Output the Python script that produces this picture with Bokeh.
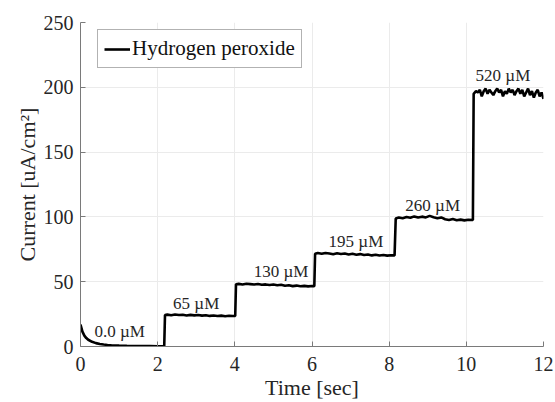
from bokeh.plotting import figure
from bokeh.models import Range1d, FixedTicker, ColumnDataSource, Legend, LegendItem
from bokeh.core.properties import value
from bokeh.embed import file_html
from bokeh.resources import INLINE

# ---- data ----
seg0_t = [0.00, 0.05, 0.10, 0.15, 0.20, 0.30, 0.40, 0.50, 0.60, 0.70, 0.80, 1.00,
          1.20, 1.40, 1.60, 1.80, 2.00, 2.17]
seg0_i = [17.0, 11.5, 8.4, 6.5, 5.2, 3.6, 2.6, 1.9, 1.5, 1.2, 1.0, 0.7,
          0.5, 0.4, 0.3, 0.3, 0.2, 0.2]

seg1_t = [2.19, 2.25, 2.35, 2.45, 2.55, 2.65, 2.75, 2.85, 2.95, 3.05, 3.15, 3.25,
          3.35, 3.45, 3.55, 3.65, 3.75, 3.85, 3.95, 4.01]
seg1_i = [24.3, 24.6, 24.1, 24.7, 24.3, 24.5, 23.9, 24.4, 24.0, 24.3, 23.8, 24.1,
          23.6, 23.9, 23.5, 23.8, 23.4, 23.7, 23.5, 23.6]

seg2_t = [4.03, 4.10, 4.20, 4.30, 4.40, 4.50, 4.60, 4.70, 4.80, 4.90, 5.00, 5.10,
          5.20, 5.30, 5.40, 5.50, 5.60, 5.70, 5.80, 5.90, 6.00, 6.06]
seg2_i = [48.0, 48.3, 47.9, 48.4, 48.1, 47.8, 48.2, 47.7, 47.9, 47.5, 47.8, 47.3,
          47.6, 46.9, 47.2, 46.6, 47.0, 46.5, 46.8, 46.4, 46.7, 46.6]

seg3_t = [6.08, 6.15, 6.25, 6.35, 6.45, 6.55, 6.65, 6.75, 6.85, 6.95, 7.05, 7.15,
          7.25, 7.35, 7.45, 7.55, 7.65, 7.75, 7.85, 7.95, 8.05, 8.14]
seg3_i = [71.6, 72.1, 71.5, 72.2, 71.8, 71.2, 71.9, 71.4, 71.7, 71.0, 71.5, 70.8,
          71.3, 70.6, 71.0, 70.3, 70.8, 70.2, 70.6, 70.1, 70.4, 70.3]

seg4_t = [8.17, 8.25, 8.35, 8.45, 8.55, 8.65, 8.75, 8.85, 8.95, 9.05, 9.15, 9.25,
          9.35, 9.45, 9.55, 9.65, 9.75, 9.85, 9.95, 10.05, 10.17]
seg4_i = [98.8, 99.6, 99.0, 99.9, 99.3, 100.4, 99.5, 100.2, 99.6, 100.8, 99.7, 98.9,
          99.6, 98.2, 97.6, 98.3, 97.4, 97.9, 97.3, 97.8, 97.6]

seg5_t = [10.19, 10.25, 10.30, 10.35, 10.40, 10.45, 10.50, 10.55, 10.60, 10.65,
          10.70, 10.75, 10.80, 10.85, 10.90, 10.95, 11.00, 11.05, 11.10, 11.15,
          11.20, 11.25, 11.30, 11.35, 11.40, 11.45, 11.50, 11.55, 11.60, 11.65,
          11.70, 11.75, 11.80, 11.85, 11.90, 11.95, 12.00]
seg5_i = [195, 197, 196, 198, 193, 197, 199, 195, 198, 196,
          194, 197, 199, 196, 198, 193, 197, 195, 199, 196,
          198, 194, 197, 199, 195, 198, 193, 196, 199, 194,
          197, 192, 196, 198, 193, 196, 191]

label_text = ["0.0 \u00b5M", "65 \u00b5M", "130 \u00b5M", "195 \u00b5M", "260 \u00b5M", "520 \u00b5M"]
label_x = [0.36, 2.40, 4.49, 6.43, 8.42, 10.24]
label_y = [11.7, 32.8, 57.8, 81.2, 108.8, 209.4]

x_ticks = [0, 2, 4, 6, 8, 10, 12]
y_ticks = [0, 50, 100, 150, 200, 250]

series_name = "Hydrogen peroxide"

time = seg0_t + seg1_t + seg2_t + seg3_t + seg4_t + seg5_t
current = seg0_i + seg1_i + seg2_i + seg3_i + seg4_i + seg5_i

SERIF = "Liberation Serif"

p = figure(width=555, height=402, output_backend="svg", toolbar_location=None,
           x_range=Range1d(0, 12), y_range=Range1d(0, 250),
           min_border_left=80, min_border_right=12, min_border_top=22, min_border_bottom=55)
p.outline_line_color = None
p.background_fill_color = "white"
p.border_fill_color = "white"

r = p.line(time, current, line_color="black", line_width=2.6)

src = ColumnDataSource(dict(x=label_x, y=label_y, t=label_text))
p.text(x="x", y="y", text="t", source=src, text_font=value(SERIF),
       text_font_size="17px", text_baseline="middle", text_align="left",
       text_color="#262626")

p.xaxis.ticker = FixedTicker(ticks=x_ticks)
p.yaxis.ticker = FixedTicker(ticks=y_ticks)
p.xaxis.axis_label = "Time [sec]"
p.yaxis.axis_label = "Current [uA/cm\u00b2]"
for ax in (p.xaxis[0], p.yaxis[0]):
    ax.axis_line_color = "#7a7a7a"
    ax.major_tick_line_color = "#7a7a7a"
    ax.major_tick_in = 5
    ax.major_tick_out = 0
    ax.minor_tick_line_color = None
    ax.major_label_text_font = SERIF
    ax.major_label_text_font_size = "20px"
    ax.major_label_text_color = "#262626"
    ax.axis_label_text_font = SERIF
    ax.axis_label_text_font_size = "22px"
    ax.axis_label_text_font_style = "normal"
    ax.axis_label_text_color = "#262626"
    ax.axis_label_standoff = 1
p.xaxis.major_label_standoff = 10
p.yaxis.major_label_standoff = 7

p.xgrid.grid_line_color = "#ebebeb"
p.ygrid.grid_line_color = "#ebebeb"

legend = Legend(items=[LegendItem(label=series_name, renderers=[r])],
                location=(17, 278), border_line_color="#666666", border_line_width=1,
                background_fill_color="white", background_fill_alpha=1,
                label_text_font=SERIF, label_text_font_size="21px",
                label_text_color="#111111",
                glyph_width=26, glyph_height=22, label_height=22,
                label_standoff=2, padding=6, spacing=0, margin=0)
p.add_layout(legend, "center")

open("out.html", "w").write(file_html(p, INLINE))
